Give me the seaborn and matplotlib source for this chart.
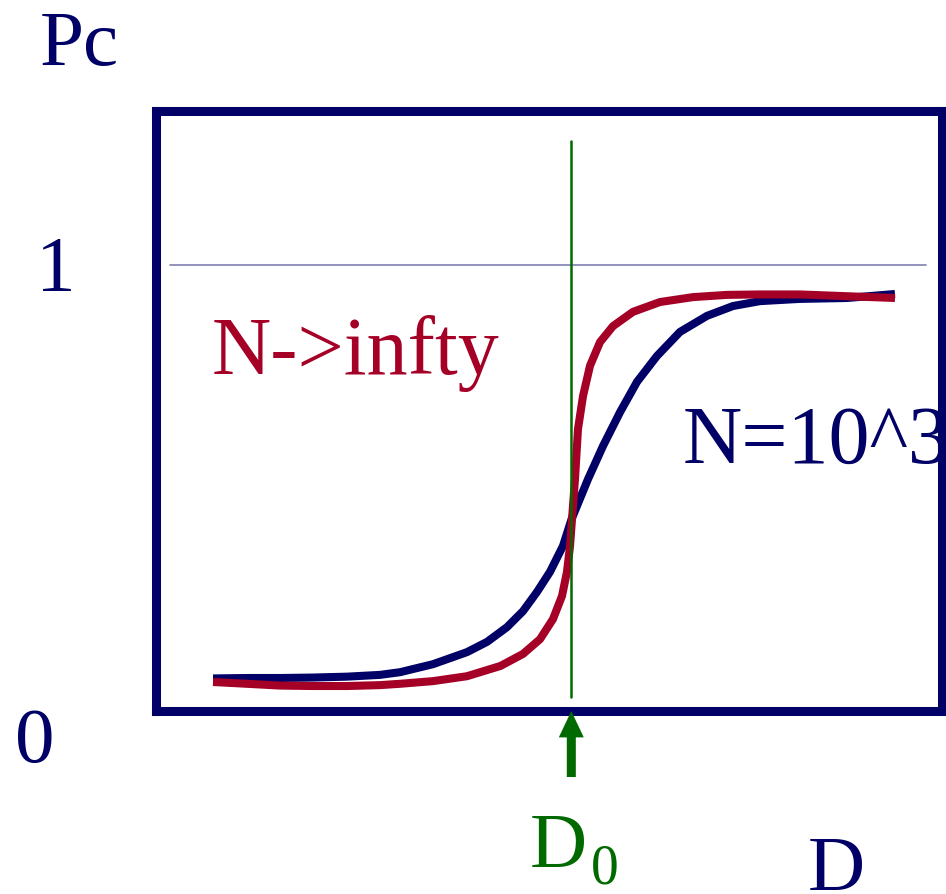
import matplotlib
matplotlib.use("Agg")
import matplotlib.pyplot as plt
import seaborn as sns
import pandas as pd

# ---- data ----
d_finite = [0.732, 1.164, 1.584, 2.004, 2.436, 2.856, 3.111, 3.531, 3.963, 4.218, 4.472, 4.676,
            4.854, 5.019, 5.184, 5.293, 5.503, 5.693, 5.910, 6.126, 6.380, 6.673, 7.017, 7.347,
            7.691, 8.200, 8.798, 9.408]
pc_finite = [0.073, 0.074, 0.074, 0.075, 0.077, 0.081, 0.087, 0.105, 0.132, 0.155, 0.188, 0.224,
             0.267, 0.312, 0.370, 0.430, 0.520, 0.594, 0.670, 0.738, 0.796, 0.850, 0.886, 0.908,
             0.919, 0.924, 0.926, 0.935]

d_inf = [0.732, 1.164, 1.584, 2.004, 2.436, 2.856, 3.111, 3.531, 3.963, 4.389, 4.676, 4.892,
         5.057, 5.172, 5.235, 5.274, 5.299, 5.337, 5.375, 5.439, 5.528, 5.655, 5.821, 6.075,
         6.419, 6.838, 7.271, 7.691, 8.200, 8.798, 9.408]
pc_inf = [0.065, 0.061, 0.057, 0.056, 0.056, 0.058, 0.061, 0.067, 0.078, 0.101, 0.128, 0.161,
          0.206, 0.258, 0.312, 0.370, 0.430, 0.520, 0.632, 0.706, 0.774, 0.827, 0.863, 0.895,
          0.917, 0.928, 0.933, 0.934, 0.934, 0.930, 0.926]

D0 = 5.29
pc_ref = 1.0
labels_y = ["0", "1"]
label_inf = "N->infty"
label_fin = "N=10^3"

NAVY = "#000066"
RED = "#a50026"
GREEN = "#006a00"

sns.set_style("white")
plt.rcParams["font.family"] = ["Liberation Serif", "DejaVu Serif"]

W, H = 946, 895
fig = plt.figure(figsize=(W / 100, H / 100), dpi=100)
left, right, top, bottom = 155.5, 941.5, 112.0, 712.0
ax = fig.add_axes([left / W, 1 - bottom / H, (right - left) / W, (bottom - top) / H])
ax.set_xlim(0, (right - left) / 78.6)
ax.set_ylim(0, (bottom - top) / 446.0)
ax.set_xticks([])
ax.set_yticks([])
for s in ax.spines.values():
    s.set_visible(True)
    s.set_color(NAVY)
    s.set_linewidth(6.5)
    s.set_zorder(5)

# reference line at Pc = 1
ax.plot([0.19, 9.8], [pc_ref, pc_ref], color="#7f7fb3", lw=1.2, zorder=1)
# vertical line at D0
ax.plot([D0, D0], [0.031, 1.278], color=GREEN, lw=1.8, zorder=4)

df_fin = pd.DataFrame({"D": d_finite, "Pc": pc_finite})
df_inf = pd.DataFrame({"D": d_inf, "Pc": pc_inf})
sns.lineplot(data=df_fin, x="D", y="Pc", ax=ax, color=NAVY, lw=5.8,
             estimator=None, sort=False, solid_capstyle="butt", solid_joinstyle="round", zorder=2)
sns.lineplot(data=df_inf, x="D", y="Pc", ax=ax, color=RED, lw=5.8,
             estimator=None, sort=False, solid_capstyle="butt", solid_joinstyle="round", zorder=3)
ax.set_xlabel("")
ax.set_ylabel("")

# arrow under D0
ax.annotate("", xy=(D0, 0.0), xytext=(D0, -0.148), xycoords="data", textcoords="data",
            arrowprops=dict(width=6.5, headwidth=18, headlength=19, shrink=0, color=GREEN, lw=0),
            annotation_clip=False, zorder=6)

FS = 57


def ftext(px, py, s, color, size=FS, **kw):
    return fig.text(px / W, 1 - py / H, s, color=color, fontsize=size, va="baseline", ha="left", **kw)


ftext(40, 65, "Pc", NAVY)
ftext(36, 290, labels_y[1], NAVY)
ftext(15, 762, labels_y[0], NAVY)
ftext(808, 890, "D", NAVY)
ftext(530, 867, "D", GREEN)
ftext(591, 884, "0", GREEN, size=40)
ftext(212, 374, label_inf, RED, size=59)
ax.text((683 - left) / 78.6, (712 - 463) / 446.0, label_fin, color=NAVY, fontsize=59,
        va="baseline", ha="left", zorder=1, clip_on=False)

fig.savefig("out.png", dpi=100)
